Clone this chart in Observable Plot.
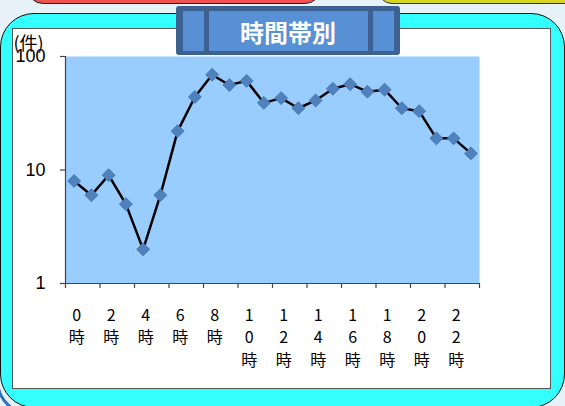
<!DOCTYPE html>
<html>
<head>
<meta charset="utf-8">
<script src="https://cdn.jsdelivr.net/npm/d3@7"></script>
<script src="https://cdn.jsdelivr.net/npm/@observablehq/plot@0.6"></script>
<style>
  html, body { margin: 0; padding: 0; }
  body { width: 565px; height: 406px; overflow: hidden; position: relative; background: #e6f2f8; font-family: "Liberation Sans", "Noto Sans CJK JP", sans-serif; }
  .deco { position: absolute; box-sizing: border-box; }
  #red { left: 27px; top: -30px; width: 294px; height: 34px; background: #ee5252; border: 1.5px solid #222; border-radius: 0 0 16px 16px; }
  #yellow { left: 378px; top: -30px; width: 200px; height: 34px; background: #d8d820; border: 1.5px solid #333; border-radius: 0 0 0 14px; }
  #blueback { left: -4px; top: 30px; width: 200px; height: 386px; border: 3px solid #2f6fbf; border-radius: 36px; }
  #cyan { left: 0px; top: 13px; width: 565px; height: 395px; background: #33ffff; border: 1.5px solid #111; border-radius: 34px; }
  #white { left: 12px; top: 28px; width: 539px; height: 361px; background: #ffffff; border: 1px solid #555; border-bottom-width: 1.5px; border-right-width: 1.5px; }
  #titlebox { left: 176px; top: 6px; width: 224px; height: 49px; background: #3d6190; border-radius: 3px; }
  .panel { position: absolute; top: 5px; height: 40px; background: #5890d6; }
  #title { position: absolute; left: 0; top: 0; width: 224px; height: 49px; line-height: 52px; text-align: center; color: #fff; font-family: "Noto Sans CJK JP", sans-serif; font-weight: bold; font-size: 24px; }
  #chart { position: absolute; left: 0; top: 0; }
</style>
</head>
<body>
<div class="deco" id="blueback"></div>
<div class="deco" id="cyan"></div>
<div class="deco" id="white"></div>
<div class="deco" id="red"></div>
<div class="deco" id="yellow"></div>
<div id="chart"></div>
<div class="deco" id="titlebox">
  <div class="panel" style="left:7px;width:21px;"></div>
  <div class="panel" style="left:33px;width:159px;"></div>
  <div class="panel" style="left:197px;width:21px;"></div>
  <div id="title">時間帯別</div>
</div>
<script>
const hours = d3.range(0, 24);
const counts = [8, 6, 9, 5, 2, 6, 22, 44, 69, 56, 61, 39, 43, 35, 41, 52, 57, 49, 51, 35, 33, 19, 19, 14];
const labelHours = [0, 2, 4, 6, 8, 10, 12, 14, 16, 18, 20, 22];
const yTicks = [1, 10, 100];
const yUnit = "(件)";

const data = hours.map((h, i) => ({hour: h, count: counts[i]}));
const labels = labelHours.map(h => ({hour: h, text: String(h).split("").join("\n") + "\n時"}));
const boundaries = d3.range(-0.5, 24, 2);

const chart = Plot.plot({
  width: 565,
  height: 406,
  marginLeft: 65,
  marginRight: 86,
  marginTop: 56,
  marginBottom: 123,
  style: {background: "transparent", fontFamily: "'Liberation Sans', 'Noto Sans CJK JP', sans-serif", overflow: "visible"},
  x: {type: "linear", domain: [-0.5, 23.5], axis: null},
  y: {type: "log", domain: [1, 100], axis: null},
  marks: [
    Plot.frame({fill: "#99ccff", stroke: null}),
    Plot.ruleX([-0.5], {stroke: "#444", strokeWidth: 1.2}),
    Plot.ruleY([1], {stroke: "#444", strokeWidth: 1.2}),
    Plot.axisY({ticks: yTicks, tickSize: 5, tickPadding: 15, tickFormat: d => String(d), fontSize: 18, fill: "#000", stroke: "#444", strokeWidth: 1.2, label: null}),
    Plot.axisX({ticks: boundaries, tickSize: 5, tickFormat: () => "", stroke: "#444", strokeWidth: 1.2, label: null}),
    Plot.text(labels, {x: "hour", text: "text", frameAnchor: "bottom", dx: 2.5, dy: 21, lineAnchor: "top", lineHeight: 1.42, fontSize: 16, fill: "#000", fontFamily: "'Noto Sans CJK JP', sans-serif"}),
    Plot.text([yUnit], {frameAnchor: "top-left", dx: -52, dy: -19, textAnchor: "start", fontSize: 18, fill: "#000", fontFamily: "'Noto Sans CJK JP', sans-serif"}),
    Plot.line(data, {x: "hour", y: "count", stroke: "#000", strokeWidth: 2.5}),
    Plot.dot(data, {x: "hour", y: "count", symbol: "diamond2", r: 5.8, fill: "#4f81bd", stroke: "#4a7ab5", strokeWidth: 1})
  ]
});
document.getElementById("chart").appendChild(chart);
</script>
</body>
</html>
